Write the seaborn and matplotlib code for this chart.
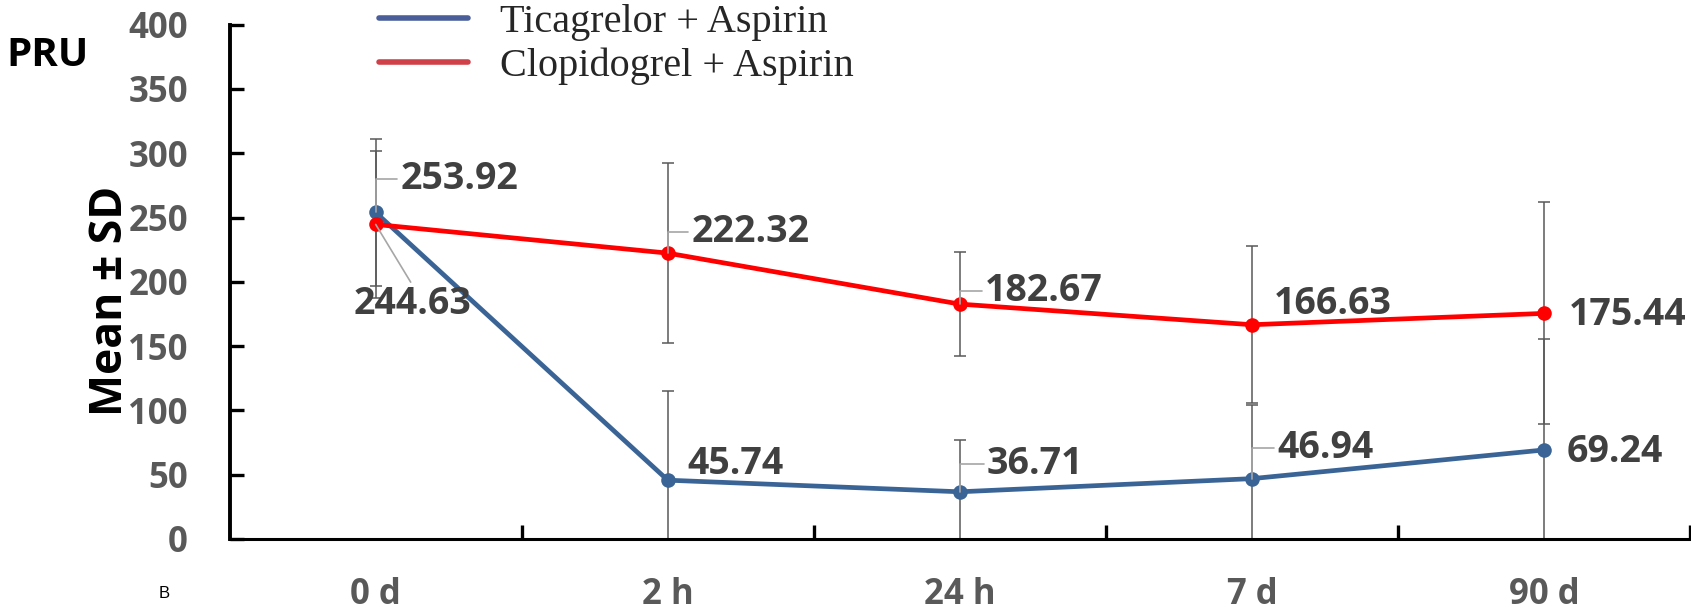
import numpy as np
import pandas as pd
import matplotlib
matplotlib.use("Agg")
import matplotlib.pyplot as plt
from matplotlib.lines import Line2D
import seaborn as sns

categories = ["0 d", "2 h", "24 h", "7 d", "90 d"]
groups = ["Ticagrelor + Aspirin", "Clopidogrel + Aspirin"]
ticagrelor_mean = [253.92, 45.74, 36.71, 46.94, 69.24]
clopidogrel_mean = [244.63, 222.32, 182.67, 166.63, 175.44]
ticagrelor_sd = [57, 69.5, 40.3, 57.5, 86]
clopidogrel_sd = [57, 70, 40.3, 61, 86.3]
yticks = [0, 50, 100, 150, 200, 250, 300, 350, 400]

# label offsets in pixels (style), and whether a leader line is drawn
tica_offsets = [(25, 33), (20, 16), (27, 28), (25, 31), (23, -2)]
tica_leader = [True, False, True, True, False]
clop_offsets = [(37, -80), (24, 21), (25, 13), (22, 21), (25, -2)]
clop_leader = [True, True, True, False, False]

BLUE = "#3A6496"
RED = "#FF0000"
GRAY = "#595959"
LEADER = "#A6A6A6"

sns.set_theme(style="white")
plt.rcParams["font.family"] = ["Open Sans", "DejaVu Sans"]

df = pd.DataFrame({
    "pos": list(range(len(categories))) * 2,
    "value": ticagrelor_mean + clopidogrel_mean,
    "sd": ticagrelor_sd + clopidogrel_sd,
    "group": [groups[0]] * len(categories) + [groups[1]] * len(categories),
})

fig = plt.figure(figsize=(16.91, 6.16), dpi=100)
ax = fig.add_axes([0.1358, 0.125, 0.8636, 0.835])

# error bars
for g in groups:
    sub = df[df.group == g]
    ax.errorbar(sub.pos, sub.value, yerr=sub.sd, fmt="none", ecolor=GRAY,
                elinewidth=1.1, capsize=4.5, capthick=1.1, zorder=2)

sns.lineplot(data=df, x="pos", y="value", hue="group", palette=[BLUE, RED],
             marker="o", markersize=10.5, markeredgewidth=0, linewidth=3.4,
             ax=ax, legend=False, zorder=3, sort=False)

ax.set_xlim(-0.5, len(categories) - 0.5)
ax.set_ylim(0, 400)
ax.set_yticks(yticks)
ax.set_yticklabels([str(t) for t in yticks], fontsize=25, fontweight="bold",
                   color=GRAY)
ax.set_xticks(range(len(categories)))
ax.set_xticklabels(categories, fontsize=25, fontweight="bold", color=GRAY)
ax.set_xticks(np.arange(0.5, len(categories) - 0.5 + 0.01, 1.0), minor=True)
ax.tick_params(axis="x", which="major", length=0, pad=27)
ax.tick_params(axis="x", which="minor", direction="in", length=10, width=2.4,
               color="black", bottom=True)
ax.tick_params(axis="y", which="major", direction="in", length=10, width=2.4,
               color="black", left=True, pad=30)
ax.set_xlabel("")
ax.set_ylabel("")
for side in ["top", "right"]:
    ax.spines[side].set_visible(False)
ax.spines["left"].set_linewidth(2.8)
ax.spines["bottom"].set_linewidth(2.2)
ax.spines["left"].set_color("black")
ax.spines["bottom"].set_color("black")
ax.grid(False)

# data labels
def label(series, offsets, leaders):
    for i, v in enumerate(series):
        dx, dy = offsets[i]
        kw = {}
        if leaders[i]:
            if dy < -40:
                kw["arrowprops"] = dict(arrowstyle="-", color=LEADER, lw=1.2,
                                        shrinkA=0, shrinkB=0,
                                        relpos=(0.5, 1.0))
            else:
                kw["arrowprops"] = dict(arrowstyle="-", color=LEADER, lw=1.2,
                                        shrinkA=0, shrinkB=0,
                                        connectionstyle="angle,angleA=0,angleB=90,rad=0")
        ha = "center" if dy < -40 else "left"
        ax.annotate(f"{v:.2f}", xy=(i, v), xytext=(dx, dy),
                    textcoords="offset pixels", ha=ha, va="center",
                    fontsize=27, fontweight="bold", color="#404040",
                    zorder=5, **kw)

label(ticagrelor_mean, tica_offsets, tica_leader)
label(clopidogrel_mean, clop_offsets, clop_leader)

# legend
handles = [Line2D([0], [0], color="#4A5F9A", lw=4),
           Line2D([0], [0], color="#D04048", lw=4)]
fig.legend(handles, groups, loc="upper left", bbox_to_anchor=(0.2075, 1.04),
           frameon=False, handlelength=2.2, handletextpad=0.8,
           labelspacing=0.16, borderpad=0.2,
           prop={"family": "Liberation Serif", "size": 29})

fig.text(0.004, 1 - 55 / 616, "PRU", fontsize=29, fontweight="bold",
         color="black", va="center", ha="left")
fig.text(0.0656, 0.512, "Mean ± SD", fontsize=32, fontweight="bold",
         color="black", rotation=90, va="center", ha="center")
fig.text(164 / 1691, 1 - 594 / 616, "B", fontsize=12, color="black",
         family="Liberation Sans", va="center", ha="center")

fig.savefig("out.png", dpi=100)
